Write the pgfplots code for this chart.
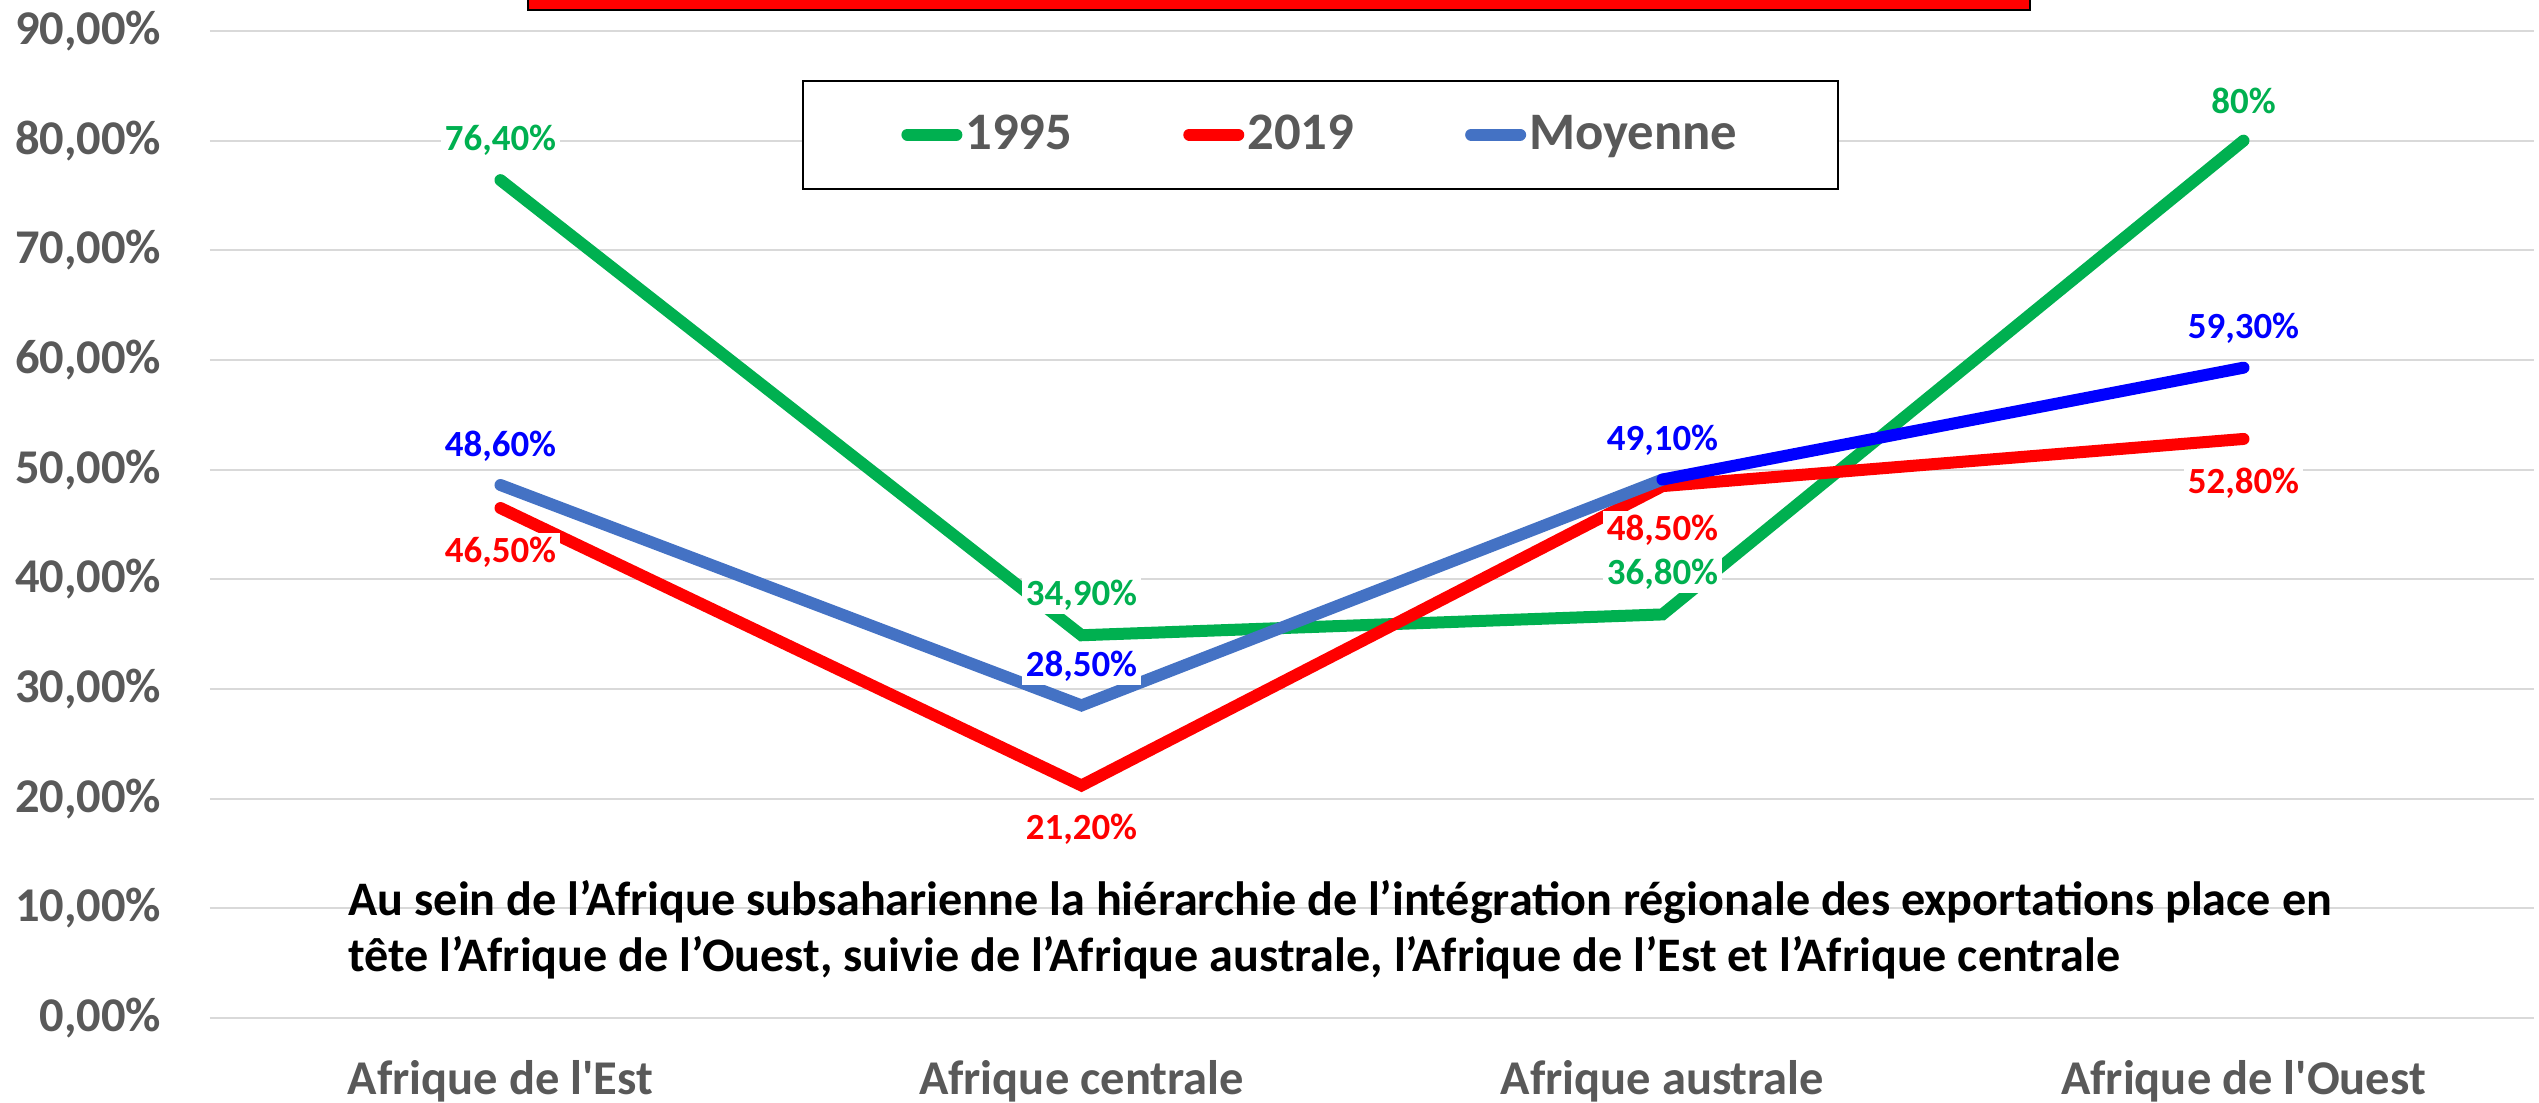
\documentclass[border=0pt]{standalone}
\usepackage{pgfplots}
\pgfplotsset{compat=1.18}
\usepackage{pgfplotstable}
\usepackage{fontspec}
\setmainfont{Carlito}
\definecolor{cgreen}{HTML}{00B050}
\definecolor{cred}{HTML}{FF0000}
\definecolor{cmoy}{HTML}{4472C4}
\definecolor{cblue}{HTML}{0000FF}
\definecolor{ctick}{HTML}{595959}
\definecolor{cgrid}{HTML}{D9D9D9}

\pgfplotstableread{
x a lab
0 76.4 76,40\%
1 34.9 34,90\%
2 36.8 36,80\%
3 80.0 80\%
}\dataA
\pgfplotstableread{
x a lab
0 46.5 46,50\%
1 21.2 21,20\%
2 48.5 48,50\%
3 52.8 52,80\%
}\dataB
\pgfplotstableread{
x a lab
0 48.6 48,60\%
1 28.5 28,50\%
2 49.1 49,10\%
3 59.3 59,30\%
}\dataC

\begin{document}
\begin{tikzpicture}
\useasboundingbox (-21mm,-8.5mm) rectangle (232.9mm,101.8mm);
\begin{axis}[
  at={(0,0)}, anchor=south west,
  scale only axis, width=232.4mm, height=98.7mm,
  xmin=-0.5, xmax=3.5, ymin=0, ymax=90,
  axis line style={draw=none}, major tick length=0pt,
  xtick={0,1,2,3},
  xticklabels={Afrique de l\textquotesingle Est, Afrique centrale, Afrique australe, Afrique de l\textquotesingle Ouest},
  ytick={0,10,...,90},
  yticklabels={{0,00\%},{10,00\%},{20,00\%},{30,00\%},{40,00\%},{50,00\%},{60,00\%},{70,00\%},{80,00\%},{90,00\%}},
  ymajorgrids, grid style={cgrid, line width=0.2mm},
  tick label style={font=\fontsize{13.8}{16}\selectfont\bfseries, text=ctick},
  xticklabel style={anchor=base, yshift=-7.7mm},
  yticklabel style={anchor=east, inner sep=0pt, xshift=-4.8mm},
  clip=false,
  legend columns=3,
  legend cell align=left,
  legend image code/.code={\draw[#1, line width=1.2mm, line cap=round] (0.6mm,0) -- (5.5mm,0);},
  legend style={at={(rel axis cs:0.478,0.895)}, anchor=center, draw=black, line width=0.2mm,
    inner xsep=9.8mm, inner ysep=2.7mm, font=\fontsize{15}{18}\selectfont\bfseries, text=ctick,
    nodes={inner xsep=0.3mm},
    /tikz/every even column/.append style={column sep=10.8mm}},
  every axis plot/.append style={line width=1.2mm, line cap=round, line join=miter},
]
\addplot[cgreen] table[x=x,y=a]{\dataA};
\addlegendentry{1995}
\addplot[cred] table[x=x,y=a]{\dataB};
\addlegendentry{2019}
\addplot[cmoy, skip coords between index={3}{4}] table[x=x,y=a]{\dataC};
\addlegendentry{Moyenne}
\addplot[cblue, skip coords between index={0}{2}, forget plot] table[x=x,y=a]{\dataC};
% data labels
\addplot[draw=none, forget plot, nodes near coords, point meta=explicit symbolic,
  every node near coord/.append style={fill=white, inner sep=1pt, text=cgreen, font=\fontsize{10.5}{12}\selectfont\bfseries, anchor=center, yshift=4mm}]
  table[x=x,y=a,meta=lab]{\dataA};
\addplot[draw=none, forget plot, nodes near coords, point meta=explicit symbolic,
  every node near coord/.append style={fill=white, inner sep=1pt, text=cred, font=\fontsize{10.5}{12}\selectfont\bfseries, anchor=center, yshift=-4.4mm}]
  table[x=x,y=a,meta=lab]{\dataB};
\addplot[draw=none, forget plot, nodes near coords, point meta=explicit symbolic,
  every node near coord/.append style={fill=white, inner sep=1pt, text=cblue, font=\fontsize{10.5}{12}\selectfont\bfseries, anchor=center, yshift=3.9mm}]
  table[x=x,y=a,meta=lab]{\dataC};
\end{axis}
\draw[black, line width=0.25mm, fill=cred] (31.8mm,100.8mm) rectangle (182mm,104mm);
\node[anchor=base west, inner sep=0pt, align=left, font=\fontsize{13.7}{16.2}\selectfont\bfseries] at (13.8mm,4.6mm)
 {Au sein de l’Afrique subsaharienne la hiérarchie de l’intégration régionale des exportations place en\\tête l’Afrique de l’Ouest, suivie de l’Afrique australe, l’Afrique de l’Est et l’Afrique centrale};
\end{tikzpicture}
\end{document}
